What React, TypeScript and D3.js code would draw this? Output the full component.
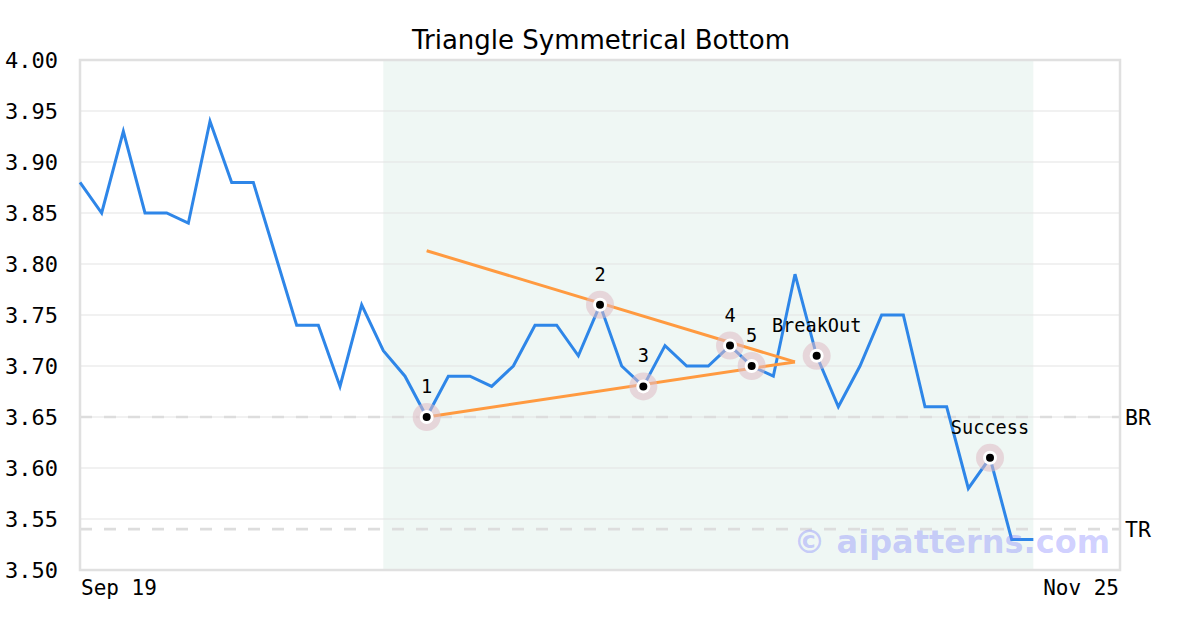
import React from "react";
import * as d3 from "d3";

const prices: number[] = [
  3.88, 3.85, 3.93, 3.85, 3.85, 3.84, 3.94, 3.88, 3.88, 3.81,
  3.74, 3.74, 3.68, 3.76, 3.715, 3.69, 3.65, 3.69, 3.69, 3.68,
  3.70, 3.74, 3.74, 3.71, 3.76, 3.70, 3.68, 3.72, 3.70, 3.70,
  3.72, 3.70, 3.69, 3.79, 3.71, 3.66, 3.70, 3.75, 3.75, 3.66,
  3.66, 3.58, 3.61, 3.53, 3.53,
];
const xDomainMax = 48;
const yTicks: number[] = [3.5, 3.55, 3.6, 3.65, 3.7, 3.75, 3.8, 3.85, 3.9, 3.95, 4.0];
const xTickLabels: string[] = ["Sep 19", "Nov 25"];
const shadeRange: [number, number] = [14, 44];
const markers: { i: number; v: number; label: string }[] = [
  { i: 16, v: 3.65, label: "1" },
  { i: 24, v: 3.76, label: "2" },
  { i: 26, v: 3.68, label: "3" },
  { i: 30, v: 3.72, label: "4" },
  { i: 31, v: 3.70, label: "5" },
  { i: 34, v: 3.71, label: "BreakOut" },
  { i: 42, v: 3.61, label: "Success" },
];
const upperLine: [number, number][] = [[16, 3.813], [33, 3.704]];
const lowerLine: [number, number][] = [[16, 3.65], [33, 3.704]];
const levels: { v: number; label: string }[] = [
  { v: 3.65, label: "BR" },
  { v: 3.54, label: "TR" },
];

const W = 1200, H = 630;
const L = 80, R = 1120, T = 60, B = 570;
const mono = "'DejaVu Sans Mono', monospace";
const sans = "'DejaVu Sans', sans-serif";

export default function App() {
  const x = d3.scaleLinear().domain([0, xDomainMax]).range([L, R]);
  const y = d3.scaleLinear().domain([3.5, 4.0]).range([B, T]);
  const line = d3.line<number>().x((_, i) => x(i)).y((d) => y(d));
  const seg = d3.line<[number, number]>().x((d) => x(d[0])).y((d) => y(d[1]));

  return (
    <svg width={W} height={H} style={{ position: "absolute", left: 0, top: 0, background: "#fff" }}>
      <rect x={0} y={0} width={W} height={H} fill="#fff" />
      <text x={601} y={49} textAnchor="middle" fontFamily={sans} fontSize={26} fill="#000">
        Triangle Symmetrical Bottom
      </text>
      <rect
        x={x(shadeRange[0])}
        y={T}
        width={x(shadeRange[1]) - x(shadeRange[0])}
        height={B - T}
        fill="#eff7f4"
      />
      {yTicks.map((t) => (
        <g key={t}>
          {t > 3.5 && t < 4.0 && (
            <line x1={L} x2={R} y1={y(t)} y2={y(t)} stroke="#e3e3e3" strokeWidth={1} />
          )}
          <text x={58} y={y(t)} dy="0.35em" textAnchor="end" fontFamily={mono} fontSize={22} fill="#000">
            {t.toFixed(2)}
          </text>
        </g>
      ))}
      {levels.map((lv) => (
        <g key={lv.label}>
          <line x1={L} x2={R} y1={y(lv.v)} y2={y(lv.v)} stroke="#dddddd" strokeWidth={2.7} strokeDasharray="12,12" />
          <text x={1125} y={y(lv.v)} dy="0.35em" fontFamily={mono} fontSize={21.5} fill="#000">
            {lv.label}
          </text>
        </g>
      ))}
      <rect x={L} y={T} width={R - L} height={B - T} fill="none" stroke="#e0e0e0" strokeWidth={2.5} />
      <path d={line(prices) || ""} fill="none" stroke="#2e86e8" strokeWidth={3} strokeLinejoin="miter" />
      <path d={seg(upperLine) || ""} fill="none" stroke="#ff9a40" strokeWidth={3} />
      <path d={seg(lowerLine) || ""} fill="none" stroke="#ff9a40" strokeWidth={3} />
      {markers.map((m) => (
        <g key={m.label}>
          <circle cx={x(m.i)} cy={y(m.v)} r={14} fill="rgba(222,188,196,0.55)" />
          <circle cx={x(m.i)} cy={y(m.v)} r={7} fill="#fff" />
          <circle cx={x(m.i)} cy={y(m.v)} r={4} fill="#000" />
          <text x={x(m.i)} y={y(m.v) - 24} textAnchor="middle" fontFamily={mono} fontSize={18.6} fill="#000">
            {m.label}
          </text>
        </g>
      ))}
      <text x={1110} y={553} textAnchor="end" fontFamily={sans} fontWeight="bold" fontSize={32} fill="rgba(110,110,255,0.32)">
        © aipatterns.com
      </text>
      <text x={L + 1} y={595} textAnchor="start" fontFamily={mono} fontSize={21} fill="#000">
        {xTickLabels[0]}
      </text>
      <text x={R - 1} y={595} textAnchor="end" fontFamily={mono} fontSize={21} fill="#000">
        {xTickLabels[1]}
      </text>
    </svg>
  );
}
